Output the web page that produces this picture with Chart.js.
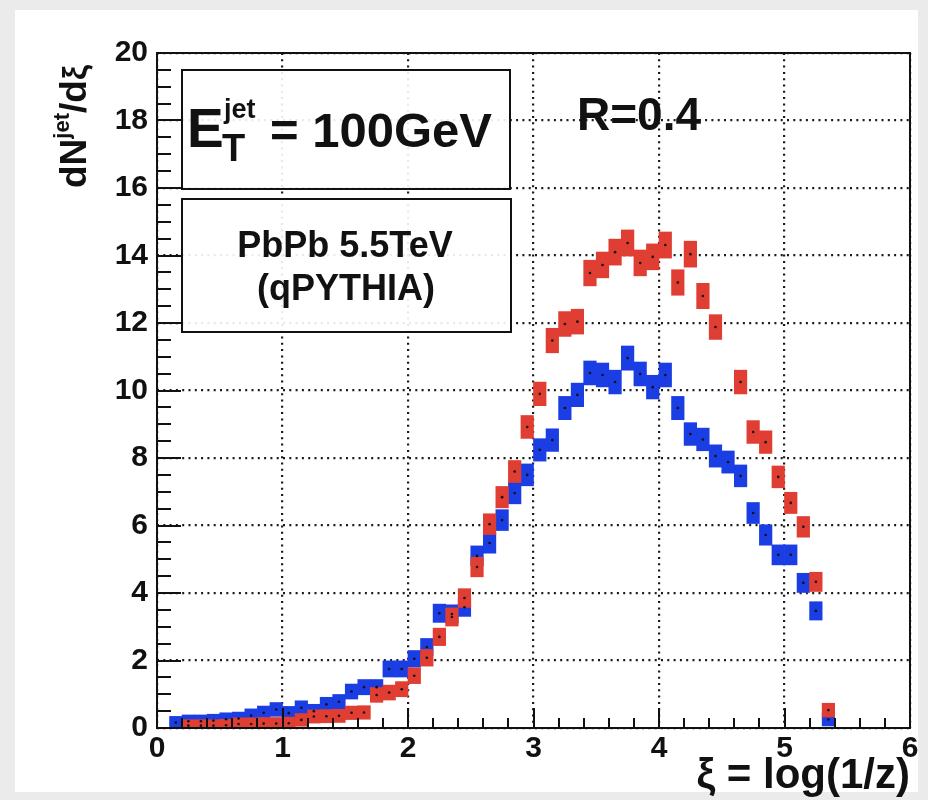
<!DOCTYPE html>
<html>
<head>
<meta charset="utf-8">
<script src="https://cdn.jsdelivr.net/npm/chart.js@4.4.1/dist/chart.umd.min.js"></script>
<style>
  html, body { margin: 0; padding: 0; background: #ebebeb; }
  #wrap { width: 928px; height: 800px; }
</style>
</head>
<body>
<div id="wrap"><canvas id="xiChart" width="928" height="800"></canvas></div>
<script>
// bin centres in xi = log(1/z)
const xiBins = [
  0.15, 0.25, 0.35, 0.45, 0.55, 0.65, 0.75, 0.85, 0.95, 1.05,
  1.15, 1.25, 1.35, 1.45, 1.55, 1.65, 1.75, 1.85, 1.95, 2.05,
  2.15, 2.25, 2.35, 2.45, 2.55, 2.65, 2.75, 2.85, 2.95, 3.05,
  3.15, 3.25, 3.35, 3.45, 3.55, 3.65, 3.75, 3.85, 3.95, 4.05,
  4.15, 4.25, 4.35, 4.45, 4.55, 4.65, 4.75, 4.85, 4.95, 5.05,
  5.15, 5.25, 5.35
];

// dN/dxi, red histogram
const redCounts = [
  null, 0.07, 0.07, 0.07, 0.08, 0.12, 0.12, 0.13, 0.13, 0.14,
  0.24, 0.34, 0.35, 0.36, 0.45, 0.46, 0.98, 1.05, 1.15, 1.55,
  2.08, 2.70, 3.29, 3.85, 4.77, 6.04, 6.84, 7.60, 8.92, 9.90,
  11.48, 11.97, 12.04, 13.48, 13.72, 14.10, 14.37, 13.78, 13.96, 14.31,
  13.20, 14.04, 12.80, 11.88, null, 10.25, 8.77, 8.47, 7.44, 6.67,
  5.96, 4.33, 0.53
];

// dN/dxi, blue histogram
const blueCounts = [
  0.16, 0.20, 0.20, 0.22, 0.26, 0.28, 0.37, 0.45, 0.55, 0.44,
  0.60, 0.50, 0.70, 0.78, 1.08, 1.21, 1.21, 1.75, 1.75, 2.05,
  2.40, 3.40, 3.38, 3.58, 5.10, 5.48, 6.16, 6.96, 7.50, 8.24,
  8.53, 9.48, 9.87, 10.52, 10.46, 10.25, 10.96, 10.49, 10.10, 10.46,
  9.48, 8.71, 8.55, 8.06, 7.88, 7.47, 6.37, 5.72, 5.13, 5.13,
  4.30, 3.47, 0.25
];

const xTickValues = [0, 1, 2, 3, 4, 5, 6];
const yTickValues = [0, 2, 4, 6, 8, 10, 12, 14, 16, 18, 20];

const FONT = "'Liberation Sans', Arial, Helvetica, sans-serif";
const RED = '#e03d33';
const BLUE = '#1b3de4';

// half height of the error box drawn round each bin
function boxHalf(v) {
  return 0.16 + 0.06 * Math.sqrt(v);
}

function boxes(vals) {
  const out = [];
  xiBins.forEach((x, i) => {
    if (vals[i] == null) return;
    out.push({ x: x, y: [vals[i] - boxHalf(vals[i]), vals[i] + boxHalf(vals[i])] });
  });
  return out;
}

function dots(vals) {
  const out = [];
  xiBins.forEach((x, i) => {
    if (vals[i] != null) out.push({ x: x, y: vals[i] });
  });
  return out;
}

// draw a run of text pieces along the baseline, each with its own size / rise
function drawParts(ctx, parts, x, y) {
  let cx = x;
  parts.forEach(p => {
    ctx.font = 'bold ' + p.size + 'px ' + FONT;
    ctx.fillText(p.text, cx, y - (p.rise || 0));
    cx += ctx.measureText(p.text).width + (p.gap || 0);
  });
  return cx - x;
}

const decor = {
  id: 'decor',
  beforeDraw(chart) {
    const ctx = chart.ctx;
    ctx.save();
    ctx.fillStyle = '#ebebeb';
    ctx.fillRect(0, 0, chart.width, chart.height);
    ctx.fillStyle = '#ffffff';
    ctx.fillRect(15, 10, 903, 782);
    ctx.restore();
  },
  beforeDatasetsDraw(chart) {
    const ctx = chart.ctx;
    const a = chart.chartArea;
    ctx.save();
    ctx.lineWidth = 2;
    ctx.strokeStyle = '#111';
    ctx.fillStyle = 'rgba(255,255,255,0.9)';
    // E_T box and collision box
    ctx.fillRect(a.left + 25, a.top + 17, 328, 119);
    ctx.strokeRect(a.left + 25, a.top + 17, 328, 119);
    ctx.fillRect(a.left + 25, a.top + 146, 329, 133);
    ctx.strokeRect(a.left + 25, a.top + 146, 329, 133);
    ctx.restore();
  },
  afterDraw(chart) {
    const ctx = chart.ctx;
    const a = chart.chartArea;
    const xs = chart.scales.x;
    const ys = chart.scales.y;
    ctx.save();
    ctx.strokeStyle = '#111';
    ctx.fillStyle = '#111';
    ctx.lineWidth = 2;

    // inward ticks, ROOT style
    ctx.beginPath();
    for (let i = 0; i <= 30; i++) {
      const px = Math.round(xs.getPixelForValue(i * 0.2));
      const len = i % 5 === 0 ? 20 : 10;
      ctx.moveTo(px, a.bottom);
      ctx.lineTo(px, a.bottom - len);
    }
    for (let i = 0; i <= 40; i++) {
      const py = Math.round(ys.getPixelForValue(i * 0.5));
      const len = i % 4 === 0 ? 24 : 14;
      ctx.moveTo(a.left, py);
      ctx.lineTo(a.left + len, py);
    }
    ctx.stroke();

    // frame
    ctx.strokeRect(a.left, a.top, a.right - a.left, a.bottom - a.top);

    ctx.textBaseline = 'alphabetic';
    ctx.textAlign = 'left';

    // E_T^jet = 100GeV
    ctx.font = 'bold 55px ' + FONT;
    ctx.fillText('E', 187, 147);
    ctx.font = 'bold 27px ' + FONT;
    ctx.fillText('jet', 224, 118);
    ctx.font = 'bold 38px ' + FONT;
    ctx.fillText('T', 222, 161);
    ctx.font = 'bold 49px ' + FONT;
    ctx.fillText('= 100GeV', 270, 147);

    // collision label
    ctx.textAlign = 'center';
    ctx.font = 'bold 36px ' + FONT;
    ctx.fillText('PbPb 5.5TeV', 345, 257);
    ctx.fillText('(qPYTHIA)', 346, 300);

    // cone size
    ctx.textAlign = 'left';
    ctx.font = 'bold 46px ' + FONT;
    ctx.fillText('R=0.4', 577, 130);

    // x title
    ctx.textAlign = 'right';
    ctx.font = 'bold 42px ' + FONT;
    ctx.fillText('\u03be = log(1/z)', 910, 788);

    // y title, rotated
    ctx.textAlign = 'left';
    ctx.translate(86, 188);
    ctx.rotate(-Math.PI / 2);
    drawParts(ctx, [
      { text: 'dN', size: 37 },
      { text: 'jet', size: 22, rise: 17 },
      { text: '/d', size: 37 },
      { text: '\u03be', size: 34 }
    ], 0, 0);
    ctx.restore();
  }
};

const ctx = document.getElementById('xiChart').getContext('2d');

new Chart(ctx,
{
    type: 'scatter',
    data:
    {
        datasets:
        [
            {
                type: 'bar',
                data: boxes(redCounts),
                backgroundColor: RED,
                borderWidth: 0,
                grouped: false,
                barPercentage: 1,
                categoryPercentage: 1,
                order: 2
            },
            {
                type: 'bar',
                data: boxes(blueCounts),
                backgroundColor: BLUE,
                borderWidth: 0,
                grouped: false,
                barPercentage: 1,
                categoryPercentage: 1,
                order: 3
            },
            {
                type: 'scatter',
                data: dots(redCounts),
                pointRadius: 1.3,
                pointBackgroundColor: '#111',
                pointBorderWidth: 0,
                order: 0
            },
            {
                type: 'scatter',
                data: dots(blueCounts),
                pointRadius: 1.3,
                pointBackgroundColor: '#111',
                pointBorderWidth: 0,
                order: 1
            }
        ]
    },
    options:
    {
        responsive: false,
        animation: false,
        layout:
        {
            padding: { left: 0, top: 53, right: 18, bottom: 0 }
        },
        scales:
        {
            x:
            {
                type: 'linear',
                min: 0,
                max: 6,
                offset: false,
                afterBuildTicks: s => { s.ticks = xTickValues.map(v => ({ value: v })); },
                afterFit: s => { s.height = 72; },
                ticks:
                {
                    font: { family: FONT, size: 30, weight: 'bold' },
                    color: '#111',
                    padding: 3,
                    maxRotation: 0
                },
                grid: { color: '#1a1a1a', lineWidth: 2.2, drawTicks: false, offset: false },
                border: { display: false, dash: [2, 4.3] }
            },
            y:
            {
                min: 0,
                max: 20,
                afterBuildTicks: s => { s.ticks = yTickValues.map(v => ({ value: v })); },
                afterFit: s => { s.width = 157; },
                ticks:
                {
                    font: { family: FONT, size: 30, weight: 'bold' },
                    color: '#111',
                    padding: 9
                },
                grid: { color: '#1a1a1a', lineWidth: 2.2, drawTicks: false },
                border: { display: false, dash: [2, 4.3] }
            }
        },
        plugins:
        {
            legend: { display: false },
            tooltip: { enabled: false }
        }
    },
    plugins: [decor]
});
</script>
</body>
</html>
